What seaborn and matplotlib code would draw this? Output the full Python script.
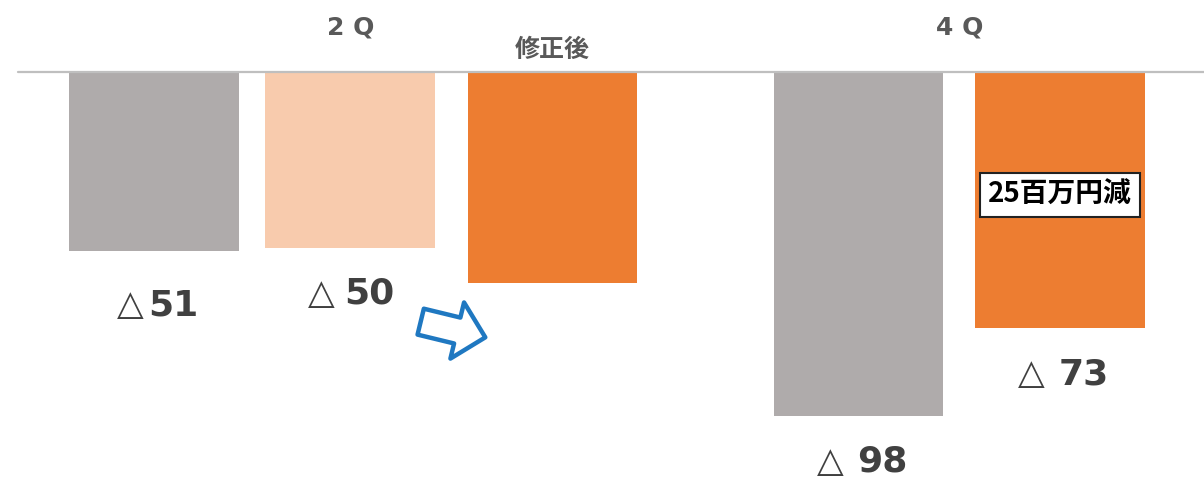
import matplotlib
matplotlib.use("Agg")
import matplotlib.pyplot as plt
import seaborn as sns
from matplotlib.patches import FancyArrowPatch

# data
bars = ["前年2Q", "2Q当初", "2Q修正後", "前年4Q", "4Q修正後"]
values = [-51, -50, -60, -98, -73]
labels = ["51", "50", None, "98", "73"]
label_space = [False, True, None, True, True]
colors = ["#AFABAB", "#F8CBAD", "#ED7D31", "#AFABAB", "#ED7D31"]
headers = ["2 Q", "修正後", "4 Q"]
note = "25百万円減"

# layout (bar slots, gap between 2Q and 4Q groups)
slots = [0, 0.975, 1.98, 3.5, 4.5]

sns.set_theme(style="white")
plt.rcParams["font.family"] = ["DejaVu Sans", "Noto Sans CJK JP"]

fig = plt.figure(figsize=(12.04, 4.79), dpi=100)
ax = fig.add_axes([0, 0, 1, 1])

sns.barplot(x=slots, y=values, hue=bars, palette=dict(zip(bars, colors)),
            native_scale=True, width=0.865, linewidth=0, saturation=1,
            legend=False, ax=ax)

px_per_unit_x = 201.3
px_per_unit_y = 3.51
ax.set_xlim(-154 / px_per_unit_x, (1204 - 154) / px_per_unit_x)
ax.set_ylim(-(479 - 72) / px_per_unit_y, 72 / px_per_unit_y)
ax.axis("off")

ax.axhline(0, xmin=18 / 1204, xmax=1, color="#BFBFBF", lw=1.6, zorder=3)

# value labels under bars
pt = 0.72
for i, (x, v, lab, sp) in enumerate(zip(slots, values, labels, label_space)):
    if lab is None:
        continue
    dy = -54 if i == 0 else -46
    tri_r, dig_l = (-10, -6) if not sp else (-16, -6)
    if i >= 3:
        tri_r, dig_l = tri_r + 1, dig_l + 5
    ax.annotate("△", (x, v), xytext=(tri_r * pt, dy * pt), textcoords="offset points",
                ha="right", va="center", fontsize=25, color="#404040",
                fontfamily="DejaVu Sans")
    ax.annotate(lab, (x, v), xytext=(dig_l * pt, dy * pt), textcoords="offset points",
                ha="left", va="center", fontsize=26, fontweight="bold", color="#404040")

# headers
top = 72 / px_per_unit_y
ax.text(slots[1], top - 28 / px_per_unit_y, headers[0], ha="center", va="center",
        fontsize=18, fontweight="bold", color="#595959")
ax.text(slots[2], top - 50 / px_per_unit_y, headers[1], ha="center", va="center",
        fontsize=18, fontweight="bold", color="#595959", fontfamily="Noto Sans CJK JP")
ax.text((slots[3] + slots[4]) / 2, top - 28 / px_per_unit_y, headers[2], ha="center",
        va="center", fontsize=18, fontweight="bold", color="#595959")

# note box on revised 4Q bar
ax.text(slots[4], top - 195 / px_per_unit_y, note, ha="center", va="center",
        fontsize=20, fontweight="bold", color="black", fontfamily="Noto Sans CJK JP",
        bbox=dict(boxstyle="square,pad=0.3", fc="white", ec="#222222", lw=1.5))

# arrow between 2Q bars
def to_data(px, py):
    return ((px - 154) / px_per_unit_x, (72 - py) / px_per_unit_y)

arrow = FancyArrowPatch(to_data(418, 321), to_data(488, 338),
                        arrowstyle="simple,head_length=1.3,head_width=2.6,tail_width=1.2",
                        mutation_scale=16, fc="white", ec="#1F78C1", lw=3.2, zorder=4)
ax.add_patch(arrow)

fig.savefig("out.png", dpi=100)
